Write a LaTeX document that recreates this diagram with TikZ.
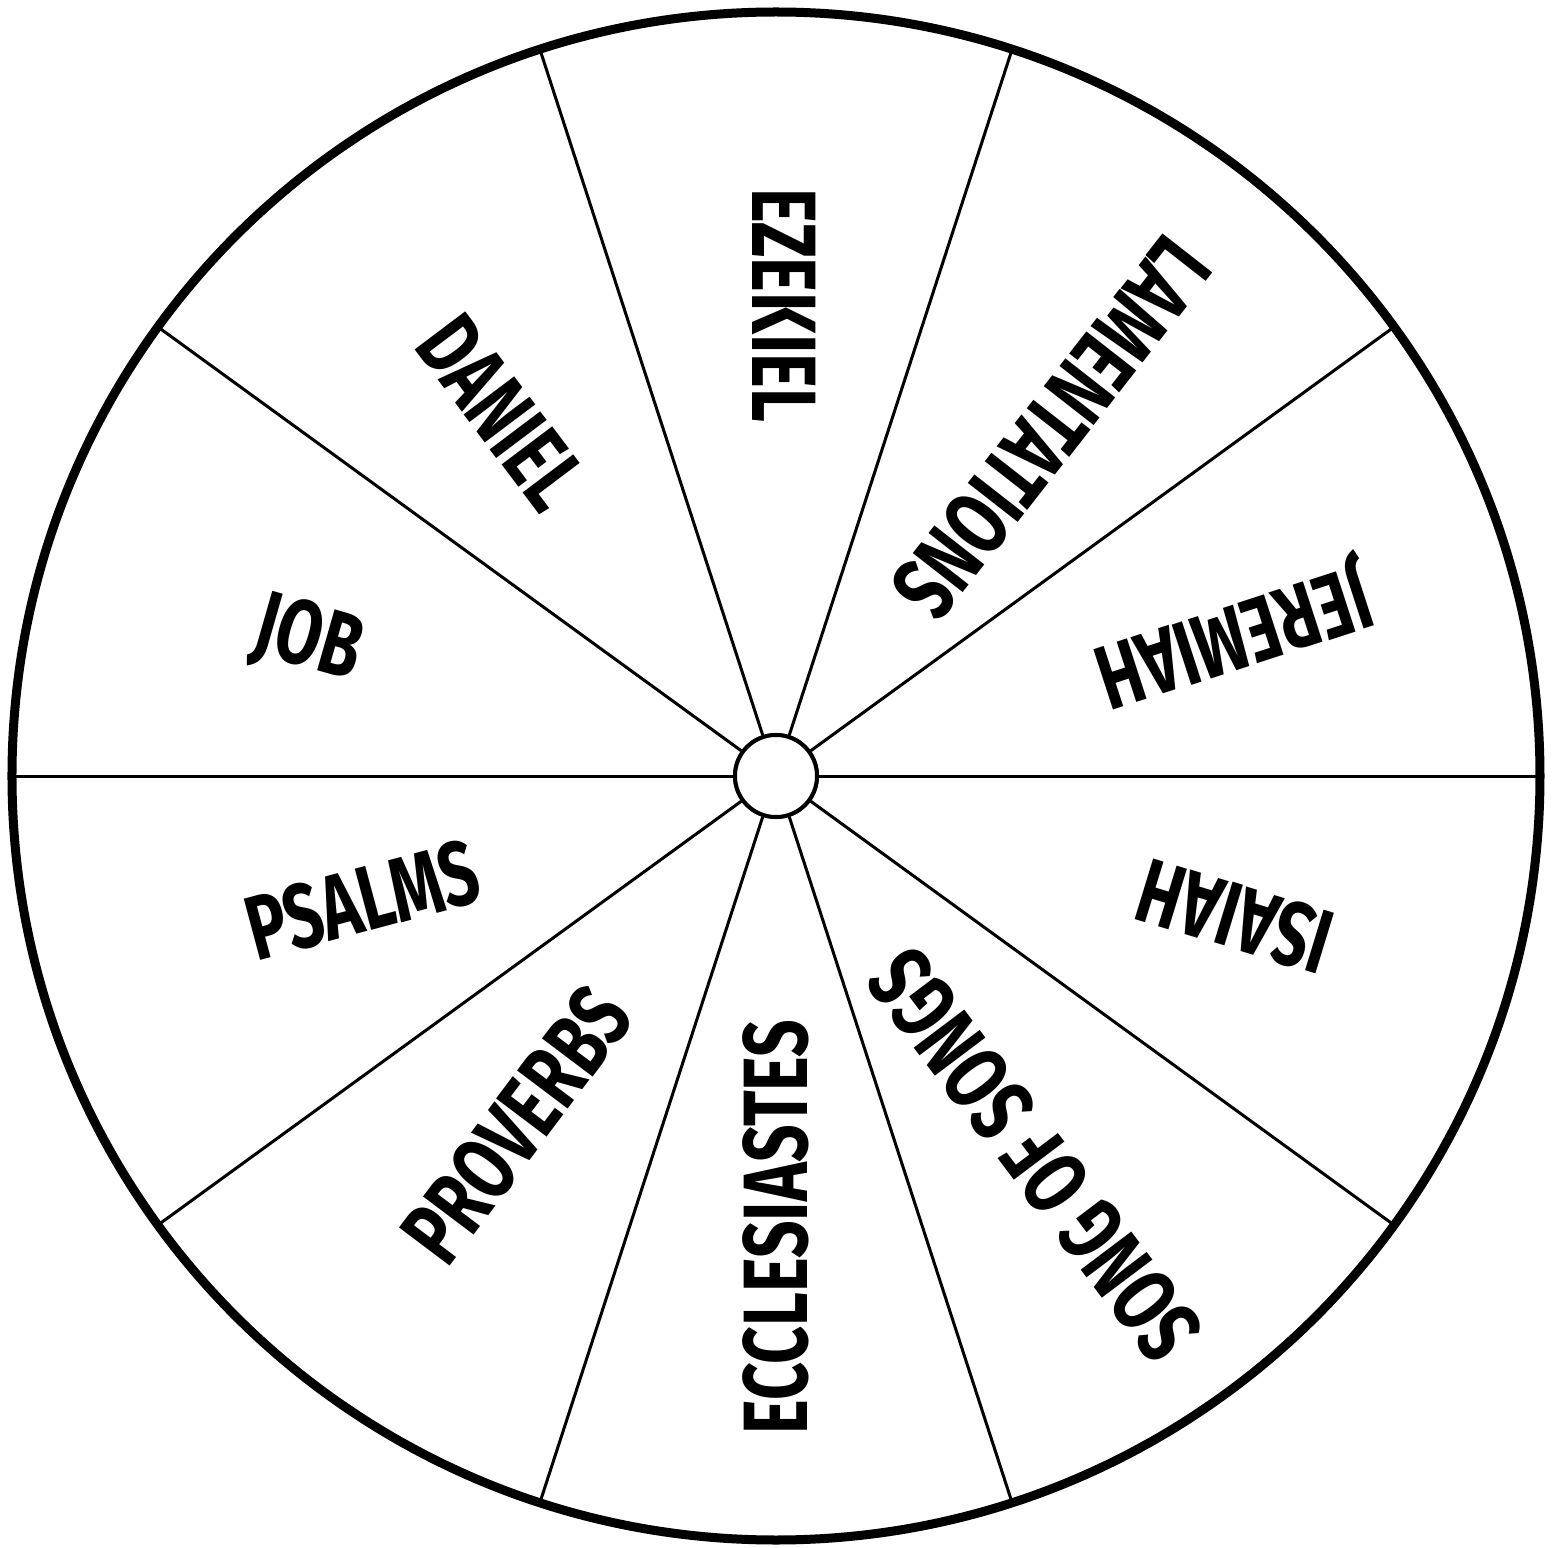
\documentclass[tikz,border=0pt]{standalone}
\usepackage{fontspec}
\newfontfamily\wheelfont{Fira Sans}[FakeStretch=0.72]
\usetikzlibrary{positioning}

\begin{document}
\begin{tikzpicture}[
  x=0.01cm, y=0.01cm,
  rim/.style={line width=9pt*0.2845},
  spoke/.style={line width=3pt*0.2845},
  hubcircle/.style={circle, draw, line width=4pt*0.2845, fill=white,
    minimum size=82*0.2845pt, inner sep=0pt},
  book/.style={font=\wheelfont\bfseries\fontsize{26pt}{26pt}\selectfont,
    inner sep=0pt, anchor=center}
]
\useasboundingbox (-776,-772) rectangle (781,776);

% wheel
\draw[rim] (0,0) circle (764);
\node[hubcircle] (hub) at (0,0) {};
\foreach \a in {0,36,...,324}
  \coordinate (rim\a) at (\a:764);
\foreach \a in {0,36,...,324}
  \draw[spoke] (hub) -- (rim\a);
\node[hubcircle] at (hub) {};

% books
\node[book, rotate=198] (jeremiah) at (17.7:479) {JEREMIAH};
\node[book, rotate=232] (lamentations) at (51.6:444) {LAMENTATIONS};
\node[book, rotate=270] (ezekiel) at (89:471) {EZEKIEL};
\node[book, rotate=307] (daniel) at (127:455) {DANIEL};
\node[book, rotate=-16] (job) at (164:487) {JOB};
\node[book, rotate=15] (psalms) at (196.7:432) {PSALMS};
\node[book, rotate=53] (proverbs) at (233.4:435) {PROVERBS};
\node[book, rotate=90] (ecclesiastes) at (270:451) {ECCLESIASTES};
\node[book, rotate=127] (songs) at (304.3:459) {SONG OF SONGS};
\node[book, rotate=163] (isaiah) at (343:480) {ISAIAH};
\end{tikzpicture}
\end{document}
